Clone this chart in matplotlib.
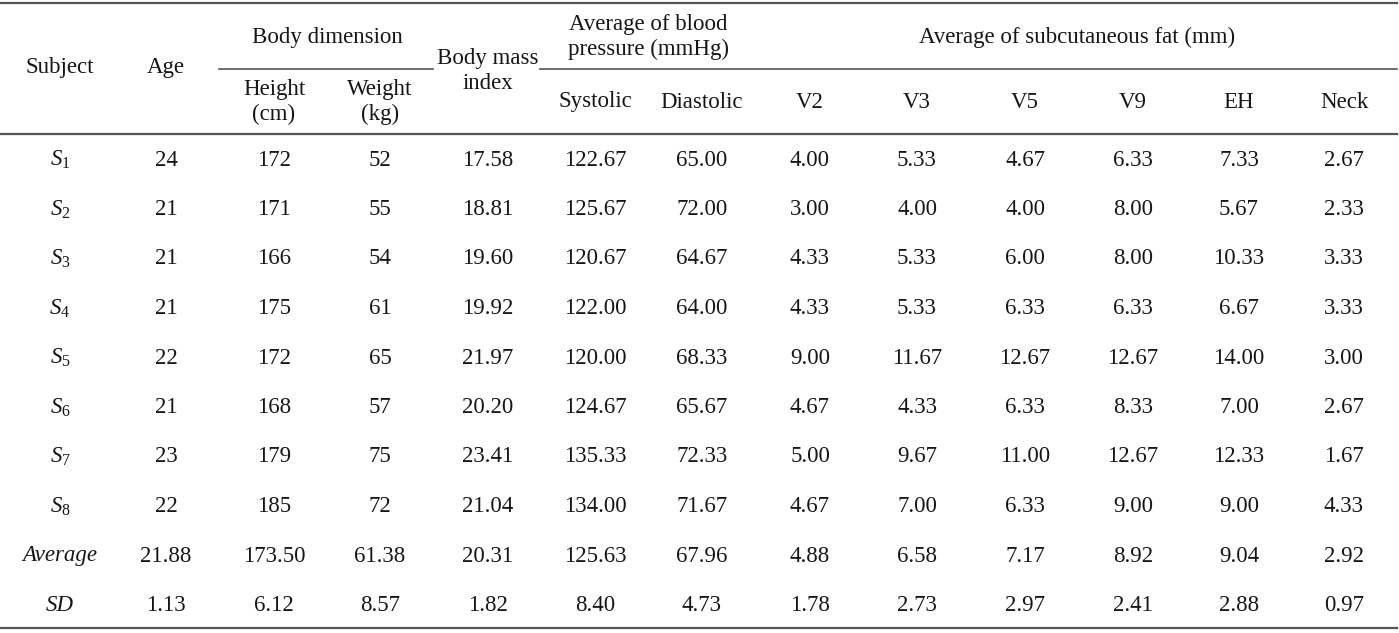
import matplotlib
matplotlib.use("Agg")
import matplotlib.pyplot as plt

plt.rcParams["font.family"] = ["Liberation Serif", "DejaVu Serif"]
plt.rcParams["mathtext.fontset"] = "custom"
plt.rcParams["mathtext.rm"] = "Liberation Serif"
plt.rcParams["mathtext.it"] = "Liberation Serif:italic"

# table data
subjects = ["1", "2", "3", "4", "5", "6", "7", "8"]
age = ["24", "21", "21", "21", "22", "21", "23", "22"]
height = ["172", "171", "166", "175", "172", "168", "179", "185"]
weight = ["52", "55", "54", "61", "65", "57", "75", "72"]
bmi = ["17.58", "18.81", "19.60", "19.92", "21.97", "20.20", "23.41", "21.04"]
systolic = ["122.67", "125.67", "120.67", "122.00", "120.00", "124.67", "135.33", "134.00"]
diastolic = ["65.00", "72.00", "64.67", "64.00", "68.33", "65.67", "72.33", "71.67"]
v2 = ["4.00", "3.00", "4.33", "4.33", "9.00", "4.67", "5.00", "4.67"]
v3 = ["5.33", "4.00", "5.33", "5.33", "11.67", "4.33", "9.67", "7.00"]
v5 = ["4.67", "4.00", "6.00", "6.33", "12.67", "6.33", "11.00", "6.33"]
v9 = ["6.33", "8.00", "8.00", "6.33", "12.67", "8.33", "12.67", "9.00"]
eh = ["7.33", "5.67", "10.33", "6.67", "14.00", "7.00", "12.33", "9.00"]
neck = ["2.67", "2.33", "3.33", "3.33", "3.00", "2.67", "1.67", "4.33"]

average_row = ["21.88", "173.50", "61.38", "20.31", "125.63", "67.96",
               "4.88", "6.58", "7.17", "8.92", "9.04", "2.92"]
sd_row = ["1.13", "6.12", "8.57", "1.82", "8.40", "4.73",
          "1.78", "2.73", "2.97", "2.41", "2.88", "0.97"]

sub_headers = ["Height\n(cm)", "Weight\n(kg)", "Systolic", "Diastolic",
               "V2", "V3", "V5", "V9", "EH", "Neck"]

# layout (pixel coordinates of a 1399 x 633 canvas)
W, H = 1399, 633
col_x = [60, 166, 274, 380, 488, 595, 702, 810, 917, 1025, 1133, 1239, 1344]
sub_cols = [2, 3, 5, 6, 7, 8, 9, 10, 11, 12]
row_y0, row_dy = 160, 49.5
fs = 16.5
text_col = "#161616"
line_col = "#555555"

fig = plt.figure(figsize=(W / 100, H / 100), dpi=100)
ax = fig.add_axes([0, 0, 1, 1])
ax.set_xlim(0, W)
ax.set_ylim(H, 0)
ax.axis("off")


def put(x, y, s, **kw):
    ax.text(x, y, s, ha="center", va="center", fontsize=fs, color=text_col,
            linespacing=1.28, **kw)


# rules
ax.plot([0, W - 2], [3, 3], color=line_col, lw=1.6)
ax.plot([219, 433], [69, 69], color=line_col, lw=1.2)
ax.plot([540, W - 2], [69, 69], color=line_col, lw=1.2)
ax.plot([0, W - 2], [134, 134], color=line_col, lw=1.6)
ax.plot([0, W - 2], [628, 628], color=line_col, lw=1.6)

# header
put(col_x[0], 68, "Subject")
put(col_x[1], 68, "Age")
put((col_x[2] + col_x[3]) / 2, 37, "Body dimension")
put(col_x[4], 71, "Body mass\nindex")
put((col_x[5] + col_x[6]) / 2, 37, "Average of blood\npressure (mmHg)")
put((col_x[7] + col_x[12]) / 2, 37, "Average of subcutaneous fat (mm)")
for c, lab in zip(sub_cols, sub_headers):
    put(col_x[c], 102, lab)

# body
columns = [age, height, weight, bmi, systolic, diastolic, v2, v3, v5, v9, eh, neck]
for r, s in enumerate(subjects):
    y = row_y0 + r * row_dy
    put(col_x[0], y, r"$S_{\mathrm{%s}}$" % s)
    for c, col in enumerate(columns):
        put(col_x[c + 1], y, col[r])

y = row_y0 + len(subjects) * row_dy
put(col_x[0], y, "Average", style="italic")
for c, v in enumerate(average_row):
    put(col_x[c + 1], y, v)

y += row_dy
put(col_x[0], y, "SD", style="italic")
for c, v in enumerate(sd_row):
    put(col_x[c + 1], y, v)

fig.savefig("out.png", dpi=100)
